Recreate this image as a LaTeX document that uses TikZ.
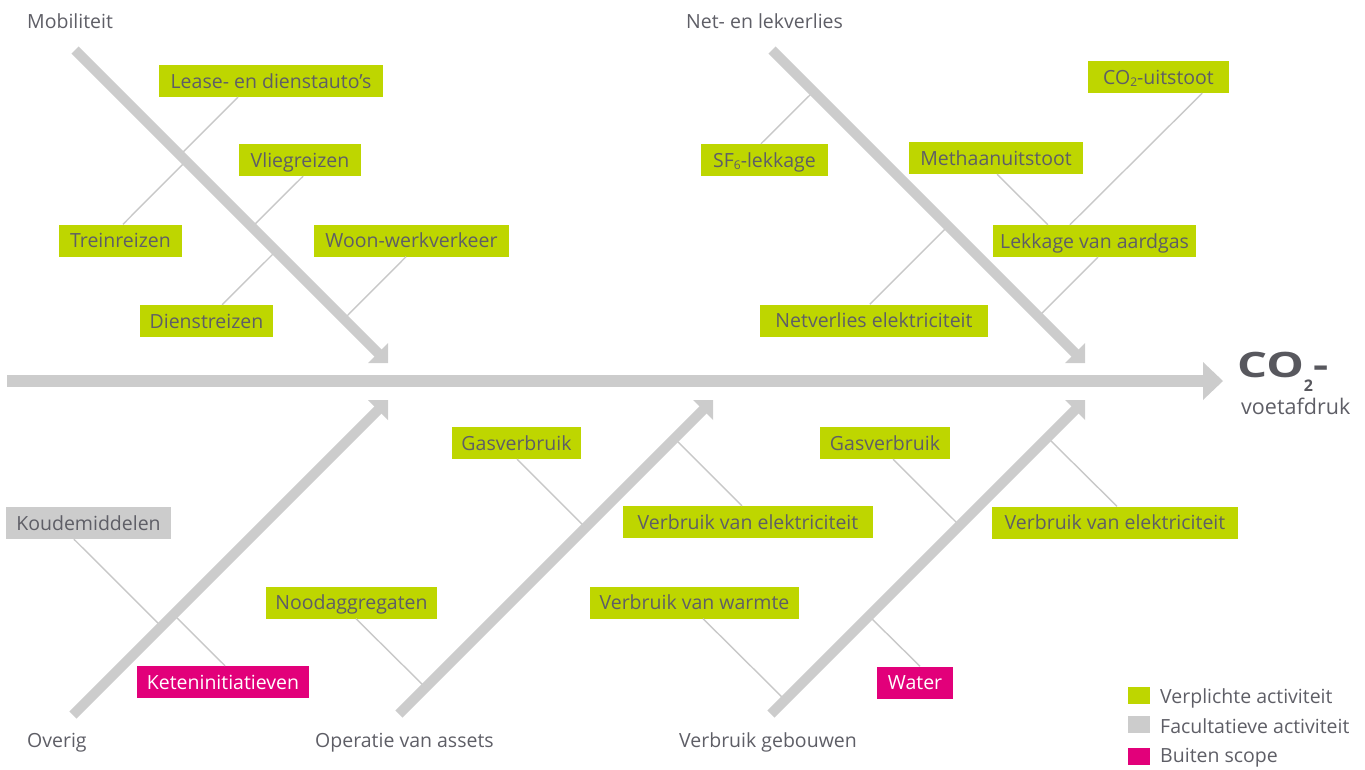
\documentclass[tikz,border=0pt]{standalone}
\usepackage{fontspec}
\setmainfont{Open Sans}
\usetikzlibrary{calc}
\definecolor{lime}{HTML}{BED600}
\definecolor{magent}{HTML}{E2007A}
\definecolor{boxgray}{HTML}{CCCCCC}
\definecolor{bonegray}{HTML}{CCCCCC}
\definecolor{linegray}{HTML}{C8C8C8}
\definecolor{txt}{HTML}{5E5E66}
\definecolor{txtdark}{HTML}{58585E}
\newcommand\lowsub[1]{\raisebox{-2.5pt}{\fontsize{12}{12}\selectfont #1}}
\begin{document}
\begin{tikzpicture}[x=1pt,y=-1pt,
  every node/.style={font=\fontsize{19.5}{23}\selectfont, text=txt, inner sep=0pt},
  cause/.style={fill=lime, minimum height=32pt, text height=14pt, text depth=0pt, align=center},
  causegray/.style={cause, fill=boxgray},
  causeout/.style={cause, fill=magent, text=white},
  cat/.style={anchor=base west},
  bone/.style={line width=10pt, draw=bonegray, line cap=butt},
  spine/.style={line width=12pt, draw=bonegray, line cap=butt},
  subline/.style={draw=linegray, line width=1.4pt},
  legsq/.style={minimum width=22pt, minimum height=17pt},
]
\useasboundingbox (0,0) rectangle (1365,769);

% category labels
\node[cat] (mob) at (27,28) {Mobiliteit};
\node[cat] (net) at (686,28) {Net- en lekverlies};
\node[cat] (ov) at (27,747) {Overig};
\node[cat] (op) at (315,747) {Operatie van assets};
\node[cat] (geb) at (679,747) {Verbruik gebouwen};

% cause boxes
\node[cause, minimum width=224pt] (lease) at (271,81) {Lease- en dienstauto’s};
\node[cause, minimum width=122pt] (vlieg) at (300,160) {Vliegreizen};
\node[cause, minimum width=123pt] (trein) at (120.5,240.5) {Treinreizen};
\node[cause, minimum width=195pt] (woon) at (411.5,240.5) {Woon-werkverkeer};
\node[cause, minimum width=133pt] (dienst) at (206.5,321) {Dienstreizen};
\node[cause, minimum width=127pt] (sf6) at (764.5,160) {SF\lowsub{6}-lekkage};
\node[cause, minimum width=174pt] (methaan) at (996,158) {Methaanuitstoot};
\node[cause, minimum width=141pt] (co2u) at (1158.5,77) {CO\lowsub{2}-uitstoot};
\node[cause, minimum width=203pt] (lekkage) at (1094.5,241) {Lekkage van aardgas};
\node[cause, minimum width=228pt] (netv) at (874,320.5) {Netverlies elektriciteit};
\node[cause, minimum width=129pt] (gasm) at (516.5,443) {Gasverbruik};
\node[cause, minimum width=250pt] (elekm) at (748,522) {Verbruik van elektriciteit};
\node[cause, minimum width=171pt] (nood) at (351.5,602.5) {Noodaggregaten};
\node[cause, minimum width=209pt] (warm) at (694.5,602.5) {Verbruik van warmte};
\node[cause, minimum width=130pt] (gasr) at (885,443) {Gasverbruik};
\node[cause, minimum width=246pt] (elekr) at (1115,522.5) {Verbruik van elektriciteit};
\node[causegray, minimum width=165pt] (koud) at (88.5,523) {Koudemiddelen};
\node[causeout, minimum width=172pt] (ket) at (223,682) {Keteninitiatieven};
\node[causeout, minimum width=76pt] (water) at (915,682.5) {Water};

% effect
\node[anchor=base west, text=txtdark] (co2) at (1237,377) {\fontsize{35}{35}\selectfont\bfseries\scalebox{1.35}[1]{CO}\raisebox{-14pt}{\fontsize{16}{16}\selectfont\bfseries 2}\scalebox{1.35}[1]{-}};
\node[anchor=base west] (voet) at (1241,414) {\fontsize{21.5}{24}\selectfont voetafdruk};

% legend
\node[legsq, fill=lime] (lg1) at (1139,695.5) {};
\node[legsq, fill=boxgray] (lg2) at (1139,724.5) {};
\node[legsq, fill=magent] (lg3) at (1139,756.5) {};
\node[anchor=base west] (lt1) at (1160,703) {Verplichte activiteit};
\node[anchor=base west] (lt2) at (1160,733) {Facultatieve activiteit};
\node[anchor=base west] (lt3) at (1160,762) {Buiten scope};

% bone coordinates
\coordinate (mobtop) at (75,50);   \coordinate (mobtip) at (388,363);
\coordinate (nettop) at (772,50);  \coordinate (nettip) at (1085,363);
\coordinate (ovbot) at (73,715);   \coordinate (ovtip) at (388,400);
\coordinate (opbot) at (399,714);  \coordinate (optip) at (713,400);
\coordinate (gebbot) at (771,714); \coordinate (gebtip) at (1085,400);
\coordinate (spinestart) at (7,381); \coordinate (spinetip) at (1223,381);

% attachment points on bones
\coordinate (mLease) at (180,155);
\coordinate (mTrein) at (186,161);
\coordinate (mVlieg) at (252,227);
\coordinate (mDienst) at (276,251);
\coordinate (mWoon) at (344,319);
\coordinate (nSf) at (813.5,91.5);
\coordinate (nNetv) at (948,226);
\coordinate (nLek) at (1038.5,316.5);
\coordinate (oKoud) at (161.5,626.5);
\coordinate (oKet) at (173.5,614.5);
\coordinate (pGas) at (585.5,527.5);
\coordinate (pElek) at (674.5,438.5);
\coordinate (pNood) at (425.5,687.5);
\coordinate (gWarm) at (785,700);
\coordinate (gWater) at (869,616);
\coordinate (gGas) at (959.5,525.5);
\coordinate (gElek) at (1047.5,437.5);

% sub lines
\draw[subline] ($(lease.south west)!0.353!(lease.south east)$) -- (mLease);
\draw[subline] ($(trein.north west)!0.52!(trein.north east)$) -- (mTrein);
\draw[subline] ($(vlieg.south west)!0.525!(vlieg.south east)$) -- (mVlieg);
\draw[subline] ($(dienst.north west)!0.617!(dienst.north east)$) -- (mDienst);
\draw[subline] ($(woon.south west)!0.472!(woon.south east)$) -- (mWoon);
\draw[subline] ($(sf6.north west)!0.472!(sf6.north east)$) -- (nSf);
\draw[subline] ($(netv.north west)!0.482!(netv.north east)$) -- (nNetv);
\draw[subline] ($(lekkage.south west)!0.517!(lekkage.south east)$) -- (nLek);
\draw[subline] ($(methaan.south west)!0.506!(methaan.south east)$) -- ($(lekkage.north west)!0.271!(lekkage.north east)$);
\draw[subline] ($(co2u.south west)!0.809!(co2u.south east)$) -- ($(lekkage.north west)!0.379!(lekkage.north east)$);
\draw[subline] ($(koud.south west)!0.412!(koud.south east)$) -- (oKoud);
\draw[subline] ($(ket.north west)!0.512!(ket.north east)$) -- (oKet);
\draw[subline] ($(gasm.south west)!0.504!(gasm.south east)$) -- (pGas);
\draw[subline] ($(elekm.north west)!0.476!(elekm.north east)$) -- (pElek);
\draw[subline] ($(nood.south west)!0.526!(nood.south east)$) -- (pNood);
\draw[subline] ($(warm.south west)!0.541!(warm.south east)$) -- (gWarm);
\draw[subline] ($(water.north west)!0.566!(water.north east)$) -- (gWater);
\draw[subline] ($(gasr.south west)!0.562!(gasr.south east)$) -- (gGas);
\draw[subline] ($(elekr.north west)!0.508!(elekr.north east)$) -- (gElek);

% bones
\draw[bone] (mobtop) -- ($(mobtip)+(-8,-8)$);
\fill[bonegray] (mobtip) -- ++(0,-20) -- ++(-20,20) -- cycle;
\draw[bone] (nettop) -- ($(nettip)+(-8,-8)$);
\fill[bonegray] (nettip) -- ++(0,-20) -- ++(-20,20) -- cycle;
\draw[bone] (ovbot) -- ($(ovtip)+(-8,8)$);
\fill[bonegray] (ovtip) -- ++(0,20) -- ++(-20,-20) -- cycle;
\draw[bone] (opbot) -- ($(optip)+(-8,8)$);
\fill[bonegray] (optip) -- ++(0,20) -- ++(-20,-20) -- cycle;
\draw[bone] (gebbot) -- ($(gebtip)+(-8,8)$);
\fill[bonegray] (gebtip) -- ++(0,20) -- ++(-20,-20) -- cycle;

% spine
\draw[spine] (spinestart) -- ($(spinetip)+(-18,0)$);
\fill[bonegray] (spinetip) -- ++(-20,-19) -- ++(0,38) -- cycle;
\end{tikzpicture}
\end{document}
